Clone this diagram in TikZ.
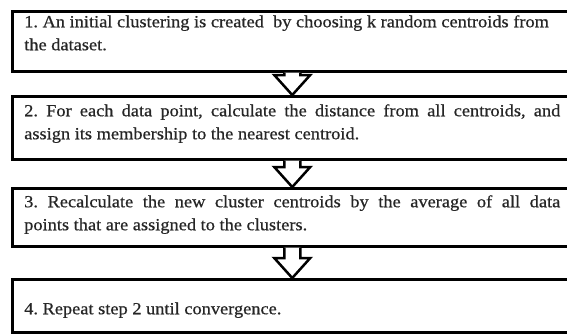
\documentclass[tikz,border=0pt]{standalone}
\usepackage{fontspec}
\setmainfont{Liberation Serif}[FakeStretch=1.08,FakeBold=0.6]
\usetikzlibrary{positioning,calc}

\begin{document}
\begin{tikzpicture}[x=1pt,y=1pt,
  stepbox/.style={draw,line width=2.5pt,text width=536pt,inner xsep=12pt,inner ysep=5pt,
    align=justify,text=black!85,font=\fontsize{17}{23}\selectfont\frenchspacing},
  hollow/.style={draw,fill=white,line width=2.5pt,line join=miter}]
	\useasboundingbox (0,0) rectangle (567,-333);

	\node[stepbox,anchor=north west,text height=11pt,text depth=39pt] (s1) at (11,-10)
		{1. An initial clustering is created\ \ by choosing k random centroids from\\the dataset.};
	\node[stepbox,text height=15pt,text depth=38pt] (s2) [below=22.5pt of s1]
		{2. For each data point, calculate the distance from all centroids, and\linebreak assign its membership to the nearest centroid.};
	\node[stepbox,text height=14pt,text depth=34pt] (s3) [below=26.5pt of s2]
		{3. Recalculate the new cluster centroids by the average of all data\linebreak points that are assigned to the clusters.};
	\node[stepbox,text height=30pt,text depth=13pt] (s4) [below=30.5pt of s3]
		{4. Repeat step 2 until convergence.};

	% hollow arrows between the steps
	\foreach \a/\b in {s1/s2,s2/s3,s3/s4}
		\draw[hollow] ($(\a.south)+(-8,0)$) -- ($(\b.north)+(-8,20)$) -- ($(\b.north)+(-18,20)$)
			-- (\b.north) -- ($(\b.north)+(18,20)$) -- ($(\b.north)+(8,20)$) -- ($(\a.south)+(8,0)$);
\end{tikzpicture}
\end{document}
